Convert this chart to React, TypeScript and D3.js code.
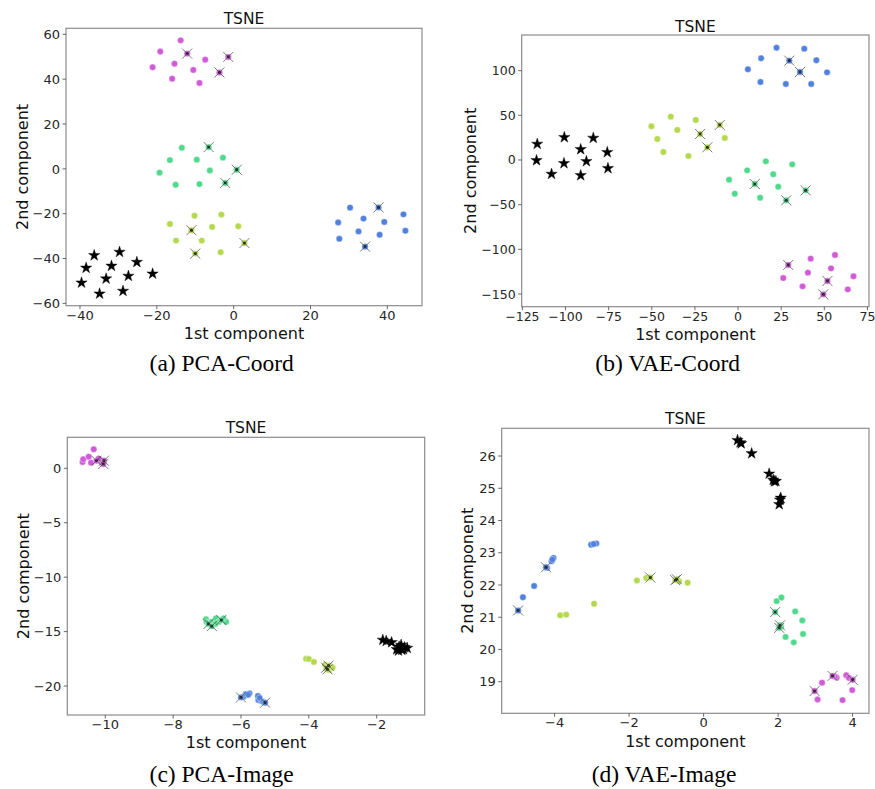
import React from "react";
import * as d3 from "d3";

// ---------- data (x, y, highlighted) ----------
const pcaCoordMagenta = [[-13.8,57.3,0],[-19.1,52.3,0],[-12.1,51.4,1],[-7.4,48.7,0],[-1.4,49.9,1],[-15.4,46.9,0],[-21.1,45.3,0],[-10.5,44.1,0],[-3.7,43.0,1],[-16.0,40.2,0],[-8.9,38.3,0]];
const pcaCoordGreen = [[-13.5,9.4,0],[-6.5,9.7,1],[-16.6,3.9,0],[-9.6,4.1,0],[-2.8,5.0,0],[-19.3,-1.7,0],[-6.2,-0.7,0],[0.8,-0.4,1],[-15.1,-7.1,0],[-8.9,-6.8,0],[-2.2,-6.3,1]];
const pcaCoordLime = [[-10.2,-20.9,0],[-3.2,-20.4,0],[-16.6,-24.6,0],[-5.6,-25.9,0],[1.2,-25.6,0],[-11.0,-27.4,1],[-15.0,-32.0,0],[-8.3,-32.0,0],[2.8,-33.1,1],[-10.0,-37.8,1],[-3.4,-37.2,0]];
const pcaCoordBlue = [[30.3,-17.3,0],[37.7,-17.2,1],[27.2,-23.9,0],[33.8,-22.2,0],[39.2,-23.7,0],[44.2,-20.3,0],[32.5,-27.9,0],[38.0,-29.4,0],[44.7,-27.6,0],[27.5,-31.2,0],[34.2,-34.7,1]];
const pcaCoordBlack = [[-36.3,-38.6,0],[-29.7,-37.1,0],[-38.4,-44.2,0],[-31.8,-43.3,0],[-25.2,-41.6,0],[-39.6,-50.8,0],[-33.2,-49.0,0],[-27.4,-47.8,0],[-21.1,-46.8,0],[-34.9,-55.7,0],[-28.8,-54.5,0]];

const vaeCoordBlue = [[22.3,125.7,0],[38.4,124.6,0],[13.4,113.8,0],[29.7,111.2,1],[45.4,111.6,0],[5.7,101.5,0],[35.9,98.5,1],[51.6,98.1,0],[13.0,87.3,0],[27.7,85.1,0],[42.4,85.1,0]];
const vaeCoordLime = [[-39.0,48.5,0],[-24.5,44.8,0],[-50.2,37.7,0],[-10.6,39.2,1],[-35.2,33.6,0],[-22.0,29.1,1],[-46.8,23.5,0],[-7.7,24.6,0],[-17.8,14.2,1],[-43.3,9.0,0],[-28.8,4.5,0]];
const vaeCoordGreen = [[16.1,-1.5,0],[31.4,-4.9,0],[5.3,-11.6,0],[20.4,-16.0,0],[-5.2,-22.0,0],[9.7,-26.9,1],[23.3,-29.9,0],[-1.9,-37.7,0],[39.2,-34.0,1],[12.8,-42.2,0],[27.9,-45.1,1]];
const vaeCoordMagenta = [[56.2,-106.3,0],[42.1,-110.4,0],[29.1,-117.5,1],[53.9,-121.3,0],[40.5,-126.1,0],[26.2,-132.1,0],[66.9,-130.2,0],[51.8,-135.4,1],[37.4,-141.4,0],[63.6,-144.8,0],[49.4,-150.4,1]];
const vaeCoordBlack = [[-116.4,17.9,0],[-100.7,25.4,0],[-83.9,24.6,0],[-91.2,11.9,0],[-75.8,8.6,0],[-116.8,-0.4,0],[-100.9,-3.7,0],[-87.9,-1.5,0],[-75.4,-9.3,0],[-108.1,-15.7,0],[-91.2,-17.2,0]];

const pcaImageMagenta = [[-10.67,0.58,0],[-10.65,0.83,0],[-10.49,1.07,0],[-10.34,1.75,0],[-10.42,0.52,0],[-10.26,0.70,1],[-10.16,0.77,0],[-10.11,0.58,0],[-10.04,0.70,1],[-10.06,0.40,1],[-10.2,0.89,0]];
const pcaImageGreen = [[-7.03,-13.87,0],[-7.01,-14.15,0],[-6.74,-13.78,0],[-6.65,-14.09,0],[-6.44,-14.09,0],[-6.88,-14.12,0],[-6.76,-14.30,0],[-6.52,-13.78,0],[-6.58,-13.94,1],[-6.96,-14.30,1],[-6.86,-14.49,1]];
const pcaImageBlue = [[-5.86,-20.74,0],[-5.75,-20.67,0],[-5.5,-20.92,0],[-5.49,-21.29,0],[-5.93,-20.98,0],[-5.41,-21.35,0],[-5.79,-20.80,0],[-5.45,-21.10,0],[-5.35,-21.45,0],[-6.0,-21.04,1],[-5.29,-21.53,1]];
const pcaImageLime = [[-4.08,-17.49,0],[-4.0,-17.52,0],[-3.85,-17.79,0],[-3.33,-18.22,0],[-3.38,-18.38,0],[-3.52,-18.07,0],[-3.30,-18.31,0],[-3.42,-18.53,0],[-3.42,-18.13,1],[-3.49,-18.32,1],[-3.45,-18.47,1]];
const pcaImageBlack = [[-1.82,-15.77,0],[-1.72,-15.87,0],[-1.56,-15.99,0],[-1.41,-16.63,0],[-1.34,-16.39,0],[-1.28,-16.23,0],[-1.26,-16.69,0],[-1.18,-16.45,0],[-1.10,-16.51,0],[-1.36,-16.75,0],[-1.21,-16.63,0]];

const vaeImageBlack = [[0.91,26.49,0],[0.98,26.42,0],[1.01,26.39,0],[1.29,26.08,0],[1.76,25.45,0],[1.87,25.26,0],[1.94,25.22,0],[2.07,24.70,0],[2.03,24.50,0],[1.90,25.21,0],[2.05,24.64,0]];
const vaeImageBlue = [[-4.85,21.62,0],[-4.55,21.97,0],[-4.08,22.74,0],[-4.03,22.84,0],[-4.06,22.79,0],[-3.02,23.25,0],[-2.88,23.29,0],[-2.95,23.27,0],[-4.20,22.53,0],[-4.98,21.21,1],[-4.23,22.55,1]];
const vaeImageLime = [[-3.85,21.06,0],[-3.69,21.08,0],[-2.94,21.42,0],[-1.79,22.14,0],[-1.54,22.22,0],[-0.70,22.17,0],[-0.43,22.07,0],[-0.66,22.12,0],[-1.43,22.23,1],[-0.76,22.15,1],[-0.72,22.18,1]];
const vaeImageGreen = [[1.96,21.50,0],[2.09,21.61,0],[2.46,21.18,0],[2.65,20.90,0],[2.67,20.48,0],[2.20,20.39,0],[2.42,20.22,0],[2.08,20.71,0],[1.92,21.16,1],[2.05,20.75,1],[2.03,20.67,1]];
const vaeImageMagenta = [[3.18,18.97,0],[3.06,18.45,0],[3.57,19.13,0],[3.83,19.20,0],[3.99,18.74,0],[3.73,18.43,0],[3.52,19.16,0],[3.90,19.12,0],[2.98,18.71,1],[3.46,19.18,1],[4.0,19.06,1]];

const COLORS = { magenta: "#d05ad8", green: "#4fd98b", lime: "#b4d94c", blue: "#5081df", black: "#000000" };

const panels = [
  {
    caption: "(a) PCA-Coord",
    frame: { l: 66, r: 422, t: 28.3, b: 305.7 },
    xDom: [-43.64, 49.02], yDom: [-61.04, 62.68],
    xTicks: [-40, -20, 0, 20, 40], yTicks: [-60, -40, -20, 0, 20, 40, 60],
    circles: [[pcaCoordMagenta, COLORS.magenta], [pcaCoordGreen, COLORS.green], [pcaCoordLime, COLORS.lime], [pcaCoordBlue, COLORS.blue]],
    stars: pcaCoordBlack,
    titleY: 23.5, xLabelY: 333.5, yLabelX: 22.7, captionX: 221.7, captionY: 370.7, tickSize: 13,
  },
  {
    caption: "(b) VAE-Coord",
    frame: { l: 521.7, r: 869, t: 35, b: 306.7 },
    xDom: [-125.4, 75.9], yDom: [-164.2, 139.9],
    xTicks: [-125, -100, -75, -50, -25, 0, 25, 50, 75], yTicks: [-150, -100, -50, 0, 50, 100],
    circles: [[vaeCoordBlue, COLORS.blue], [vaeCoordLime, COLORS.lime], [vaeCoordGreen, COLORS.green], [vaeCoordMagenta, COLORS.magenta]],
    stars: vaeCoordBlack,
    titleY: 31.5, xLabelY: 334, yLabelX: 470.7, captionX: 667.7, captionY: 370.7, tickSize: 12.5,
  },
  {
    caption: "(c) PCA-Image",
    frame: { l: 67.3, r: 424.7, t: 437.3, b: 715 },
    xDom: [-11.12, -0.585], yDom: [-22.66, 2.85],
    xTicks: [-10, -8, -6, -4, -2], yTicks: [-20, -15, -10, -5, 0],
    circles: [[pcaImageMagenta, COLORS.magenta], [pcaImageGreen, COLORS.green], [pcaImageBlue, COLORS.blue], [pcaImageLime, COLORS.lime]],
    stars: pcaImageBlack,
    titleY: 432.5, xLabelY: 742.5, yLabelX: 23, captionX: 221.7, captionY: 781.5, tickSize: 13,
  },
  {
    caption: "(d) VAE-Image",
    frame: { l: 501.7, r: 869, t: 428.3, b: 713.3 },
    xDom: [-5.42, 4.44], yDom: [18.02, 26.86],
    xTicks: [-4, -2, 0, 2, 4], yTicks: [19, 20, 21, 22, 23, 24, 25, 26],
    circles: [[vaeImageBlue, COLORS.blue], [vaeImageLime, COLORS.lime], [vaeImageGreen, COLORS.green], [vaeImageMagenta, COLORS.magenta]],
    stars: vaeImageBlack,
    titleY: 423.5, xLabelY: 741, yLabelX: 467, captionX: 664, captionY: 781.5, tickSize: 13,
  },
];

const fmt = (v: number) => (v < 0 ? "\u2212" + Math.abs(v) : String(v));
const SANS = "DejaVu Sans, sans-serif";
const starPath = d3.symbol().type(d3.symbolStar).size(40)() as string;

function Panel({ p }: { p: any }) {
  const { frame } = p;
  const x = d3.scaleLinear().domain(p.xDom).range([frame.l, frame.r]);
  const y = d3.scaleLinear().domain(p.yDom).range([frame.b, frame.t]);
  const cx = (frame.l + frame.r) / 2;
  const cy = (frame.t + frame.b) / 2;
  const highlights: any[] = [];
  p.circles.forEach(([pts]: any) => pts.forEach((d: any) => { if (d[2]) highlights.push(d); }));
  return (
    <g>
      <rect x={frame.l} y={frame.t} width={frame.r - frame.l} height={frame.b - frame.t} fill="none" stroke="#8c8c8c" strokeWidth={1.2} />
      {p.xTicks.map((t: number) => (
        <g key={"x" + t}>
          <line x1={x(t)} x2={x(t)} y1={frame.b} y2={frame.b + 3.5} stroke="#444" strokeWidth={0.8} />
          <text x={x(t)} y={frame.b + 14} textAnchor="middle" fontFamily={SANS} fontSize={p.tickSize} fill="#262626">{fmt(t)}</text>
        </g>
      ))}
      {p.yTicks.map((t: number) => (
        <g key={"y" + t}>
          <line x1={frame.l - 3.5} x2={frame.l} y1={y(t)} y2={y(t)} stroke="#444" strokeWidth={0.8} />
          <text x={frame.l - 6} y={y(t)} dy="0.36em" textAnchor="end" fontFamily={SANS} fontSize={p.tickSize} fill="#262626">{fmt(t)}</text>
        </g>
      ))}
      <text x={cx} y={p.titleY} textAnchor="middle" fontFamily={SANS} fontSize={15.5} fill="#111">TSNE</text>
      <text x={cx} y={p.xLabelY} dy="0.35em" textAnchor="middle" fontFamily={SANS} fontSize={16} fill="#111">1st component</text>
      <text transform={`translate(${p.yLabelX},${cy}) rotate(-90)`} dy="0.35em" textAnchor="middle" fontFamily={SANS} fontSize={16} fill="#111">2nd component</text>
      {p.circles.map(([pts, color]: any, i: number) => (
        <g key={"c" + i}>
          {pts.map((d: any, j: number) => (
            <circle key={j} cx={x(d[0])} cy={y(d[1])} r={3.2} fill={color} stroke="#fff" strokeWidth={0.4} />
          ))}
        </g>
      ))}
      {p.stars.map((d: any, j: number) => (
        <path key={"s" + j} d={starPath} transform={`translate(${x(d[0])},${y(d[1])})`} fill="#000" stroke="#000" strokeWidth={0.4} />
      ))}
      {highlights.map((d: any, j: number) => {
        const px = x(d[0]), py = y(d[1]), h = 5;
        return (
          <g key={"h" + j}>
            <circle cx={px} cy={py} r={1.4} fill="#111" />
            <line x1={px - h} y1={py - h} x2={px + h} y2={py + h} stroke="#444" strokeOpacity={0.7} strokeWidth={1} />
            <line x1={px - h} y1={py + h} x2={px + h} y2={py - h} stroke="#444" strokeOpacity={0.7} strokeWidth={1} />
          </g>
        );
      })}
      <text x={p.captionX} y={p.captionY} textAnchor="middle" fontFamily="Liberation Serif, Times New Roman, serif" fontSize={23.5} fill="#000">{p.caption}</text>
    </g>
  );
}

export default function App() {
  return (
    <svg width={875} height={789} style={{ position: "absolute", left: 0, top: 0, background: "#fff" }}>
      <rect width={875} height={789} fill="#fff" />
      {panels.map((p, i) => <Panel key={i} p={p} />)}
    </svg>
  );
}
